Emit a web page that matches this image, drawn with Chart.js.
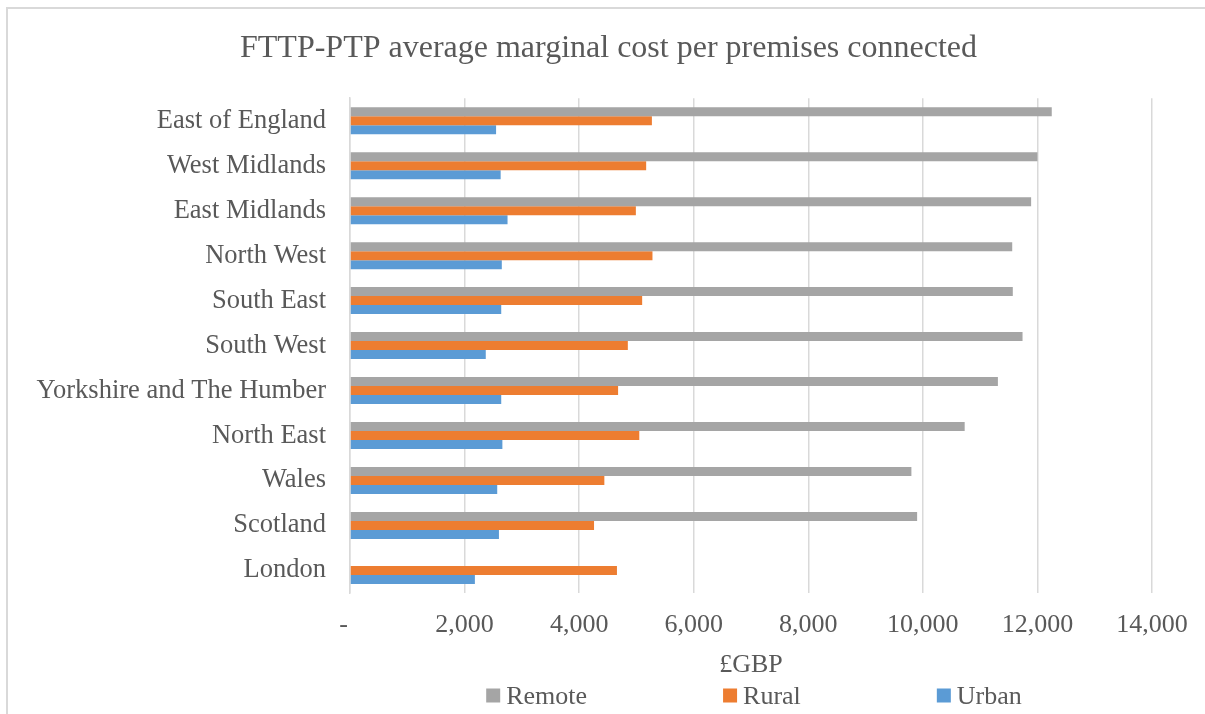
<!DOCTYPE html>
<html>
<head>
<meta charset="utf-8">
<script src="https://cdn.jsdelivr.net/npm/chart.js@4.4.1/dist/chart.umd.min.js"></script>
<style>
html, body { margin: 0; padding: 0; background: #fff; }
canvas { display: block; }
</style>
</head>
<body>
<canvas id="c" width="1205" height="714"></canvas>
<script>
// ---- Data ----
const chartTitle = 'FTTP-PTP average marginal cost per premises connected';
const xAxisTitle = '£GBP';
const regions = ['East of England', 'West Midlands', 'East Midlands', 'North West', 'South East',
  'South West', 'Yorkshire and The Humber', 'North East', 'Wales', 'Scotland', 'London'];
const seriesNames = ['Remote', 'Rural', 'Urban'];
const remote = [12250, 12000, 11890, 11560, 11570, 11740, 11310, 10730, 9800, 9900, null];
const rural  = [5270, 5170, 4990, 5280, 5100, 4850, 4680, 5050, 4440, 4260, 4660];
const urban  = [2550, 2630, 2750, 2650, 2640, 2370, 2640, 2660, 2570, 2600, 2180];
const xTickValues = [0, 2000, 4000, 6000, 8000, 10000, 12000, 14000];
const xTickLabels = ['-', '2,000', '4,000', '6,000', '8,000', '10,000', '12,000', '14,000'];

// ---- Styles ----
const seriesColors = ['#A5A5A5', '#ED7D31', '#5B9BD5'];
const FONT = '"Liberation Serif", "Times New Roman", serif';
const TEXT = '#595959';
const GRID = '#d9d9d9';

const framePlugin = {
  id: 'frame',
  beforeDraw(chart) {
    const c = chart.ctx;
    c.save();
    c.fillStyle = '#fff';
    c.fillRect(0, 0, chart.width, chart.height);
    c.fillStyle = GRID;
    c.fillRect(6, 7, chart.width - 6, 2);
    c.fillRect(6, 7, 2, chart.height - 7);
    c.restore();
  }
};

const titleShift = {
  id: 'titleShift',
  afterLayout(chart) {
    const t = chart.titleBlock;
    if (t) { t.left = 12; t.right = chart.width; t.width = t.right - t.left; }
  }
};

const bottomLegend = {
  id: 'bottomLegend',
  afterDraw(chart) {
    const ctx = chart.ctx;
    ctx.save();
    ctx.font = '26px ' + FONT;
    const box = 14, gapText = 6, gapItem = 136;
    const items = chart.data.datasets.map(d => ({
      text: d.label, color: d.backgroundColor,
      w: box + gapText + ctx.measureText(d.label).width
    }));
    const total = items.reduce((s, i) => s + i.w, 0) + gapItem * (items.length - 1);
    let x = (chart.chartArea.left + chart.chartArea.right) / 2 + 3 - total / 2;
    ctx.textBaseline = 'middle';
    ctx.textAlign = 'left';
    items.forEach(it => {
      ctx.fillStyle = it.color;
      ctx.fillRect(x, 688.5, box, box);
      ctx.fillStyle = TEXT;
      ctx.fillText(it.text, x + box + gapText, 697);
      x += it.w + gapItem;
    });
    ctx.restore();
  }
};

new Chart(document.getElementById('c'), {
  type: 'bar',
  data: {
    labels: regions,
    datasets: [
      { label: seriesNames[0], data: remote, backgroundColor: seriesColors[0] },
      { label: seriesNames[1], data: rural, backgroundColor: seriesColors[1] },
      { label: seriesNames[2], data: urban, backgroundColor: seriesColors[2] }
    ]
  },
  options: {
    indexAxis: 'y',
    responsive: false,
    animation: false,
    devicePixelRatio: 1,
    layout: { padding: { left: 0, right: 53, top: 0, bottom: 0 } },
    datasets: { bar: { categoryPercentage: 0.6, barPercentage: 1.0, borderWidth: 0 } },
    plugins: {
      legend: { display: false },
      tooltip: { enabled: false },
      title: {
        display: true, text: chartTitle, color: TEXT,
        font: { family: FONT, size: 32, weight: 'normal' },
        padding: { top: 29.2, bottom: 30.6 }
      }
    },
    scales: {
      x: {
        type: 'linear', min: 0, max: 14000, position: 'bottom',
        afterBuildTicks(s) { s.ticks = xTickValues.map(v => ({ value: v })); },
        ticks: {
          color: TEXT, font: { family: FONT, size: 26 }, padding: 17,
          maxRotation: 0, autoSkip: false,
          callback: (v) => {
            const lbl = xTickLabels[xTickValues.indexOf(v)];
            return lbl === '-' ? lbl + '  ' : lbl;
          }
        },
        grid: { color: GRID, lineWidth: 1.5, drawTicks: false },
        border: { display: false },
        title: {
          display: true, text: xAxisTitle, color: TEXT,
          font: { family: FONT, size: 26 }, padding: { top: 0, bottom: 33.1 }
        },
        afterFit(s) { s.height = 121; }
      },
      y: {
        type: 'category',
        grid: { display: false, drawTicks: false },
        border: { display: true, color: GRID, width: 1.5 },
        ticks: { color: TEXT, font: { family: FONT, size: 26.5 }, padding: 24, autoSkip: false },
        afterFit(s) { s.width = 350; }
      }
    }
  },
  plugins: [framePlugin, titleShift, bottomLegend]
});
</script>
</body>
</html>
